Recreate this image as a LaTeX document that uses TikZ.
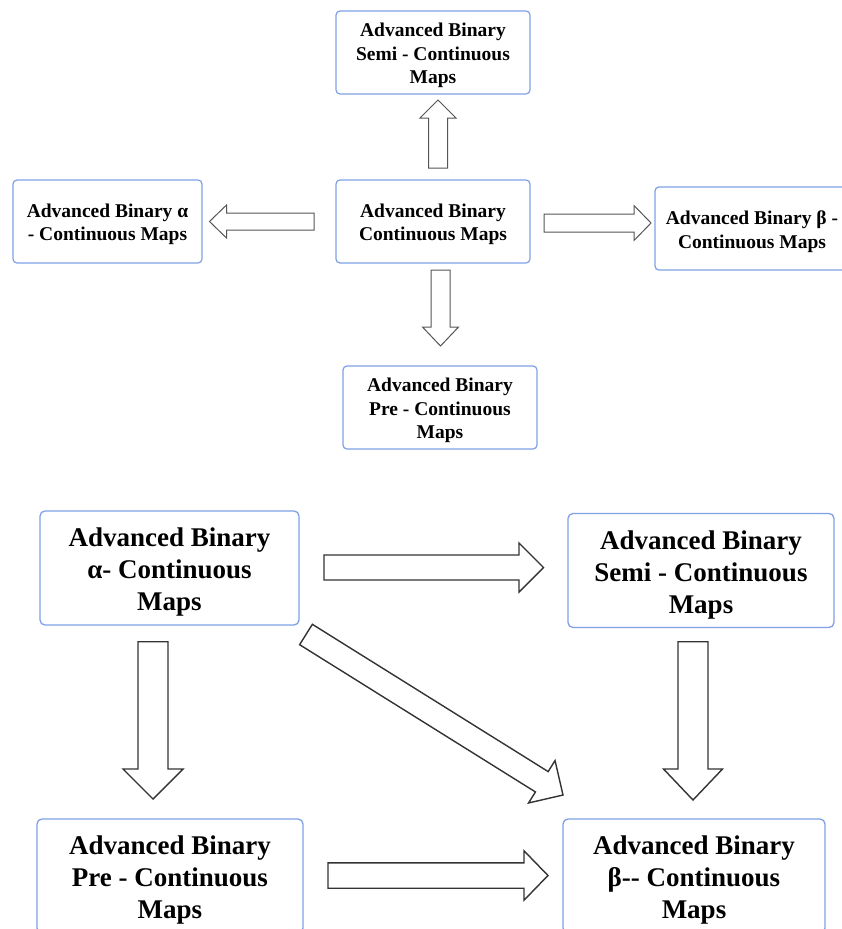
\documentclass[tikz,border=0pt]{standalone}
\usepackage{fontspec}
\setmainfont{Liberation Serif}
\usetikzlibrary{calc}
\definecolor{boxblue}{HTML}{7FA0E6}
\definecolor{arrgray}{HTML}{555555}
\definecolor{arrdark}{HTML}{333333}
\newcommand\blockarrow[6]{% #1 style, #2 tail, #3 tip, #4 half shaft, #5 half head, #6 head length
  \coordinate (ba-h) at ($(#3)!#6pt!(#2)$);
  \draw[#1] ($(#2)!#4pt!90:(#3)$) -- ($(ba-h)!#4pt!90:(#3)$) -- ($(ba-h)!#5pt!90:(#3)$) -- (#3)
    -- ($(ba-h)!#5pt!-90:(#3)$) -- ($(ba-h)!#4pt!-90:(#3)$) -- ($(#2)!#4pt!-90:(#3)$) -- cycle;}
\begin{document}
\begin{tikzpicture}[x=1pt,y=-1pt,
  smallbox/.style={draw=boxblue, line width=1.2pt, rounded corners=4pt, fill=white,
    inner sep=0pt, minimum width=194pt, minimum height=83pt},
  smalltext/.style={align=center, inner sep=0pt, yshift=-3pt,
    font=\fontsize{19.5}{23.5}\selectfont\bfseries},
  bigbox/.style={draw=boxblue, line width=1.3pt, rounded corners=5pt, fill=white,
    inner sep=0pt, minimum height=114pt},
  bigtext/.style={align=center, inner sep=0pt, yshift=-4pt,
    font=\fontsize{27}{32}\selectfont\bfseries},
  thinarrow/.style={draw=arrgray, line width=1pt, fill=white, line join=miter},
  thickarrow/.style={draw=arrdark, line width=1.4pt, fill=white, line join=miter}]
\useasboundingbox[fill=white] (0,0) rectangle (842,929);

% top diagram
\node[smallbox] (semi) at (433,52.5) {};
\node[smalltext] (semi-t) at (semi.center) {Advanced Binary\\Semi - Continuous\\Maps};
\node[smallbox] (cont) at (433,221.5) {};
\node[smalltext] (cont-t) at (cont.center) {Advanced Binary\\Continuous Maps};
\node[smallbox, minimum width=189pt] (alpha) at (107.5,221.5) {};
\node[smalltext] (alpha-t) at (alpha.center) {Advanced Binary α\\- Continuous Maps};
\node[smallbox] (beta) at (752,228.5) {};
\node[smalltext] (beta-t) at (beta.center) {Advanced Binary β -\\Continuous Maps};
\node[smallbox] (pre) at (440,407.5) {};
\node[smalltext] (pre-t) at (pre.center) {Advanced Binary\\Pre - Continuous\\Maps};

\coordinate (upT) at (438,168);     \coordinate (upH) at (438,100);
\coordinate (dnT) at (440.5,270);   \coordinate (dnH) at (440.5,346);
\coordinate (lfT) at (314,221.5);   \coordinate (lfH) at (209.5,221.5);
\coordinate (rtT) at (544,223);     \coordinate (rtH) at (651,223);
\blockarrow{thinarrow}{upT}{upH}{9.5}{18}{18}
\blockarrow{thinarrow}{dnT}{dnH}{9.5}{18}{19}
\blockarrow{thinarrow}{lfT}{lfH}{8.5}{16.5}{17}
\blockarrow{thinarrow}{rtT}{rtH}{9}{17.5}{17}

% bottom diagram
\node[bigbox, minimum width=259pt] (alpha2) at (169.5,568) {};
\node[bigtext] (alpha2-t) at (alpha2.center) {Advanced Binary\\α- Continuous\\Maps};
\node[bigbox, minimum width=266pt] (semi2) at (701,570.5) {};
\node[bigtext] (semi2-t) at (semi2.center) {Advanced Binary\\Semi - Continuous\\Maps};
\node[bigbox, minimum width=266pt] (pre2) at (170,876) {};
\node[bigtext] (pre2-t) at (pre2.center) {Advanced Binary\\Pre - Continuous\\Maps};
\node[bigbox, minimum width=262pt] (beta2) at (694,876) {};
\node[bigtext] (beta2-t) at (beta2.center) {Advanced Binary\\β-{}- Continuous\\Maps};

\coordinate (asT) at (324,567.5);  \coordinate (asH) at (543.5,567.5);
\coordinate (pbT) at (328,875.5);  \coordinate (pbH) at (548,875.5);
\coordinate (apT) at (153,641.7);  \coordinate (apH) at (153,799);
\coordinate (sbT) at (693,641.7);  \coordinate (sbH) at (693,800);
\coordinate (dgT) at (306,634.5);  \coordinate (dgH) at (563,795);
\blockarrow{thickarrow}{asT}{asH}{12.5}{24.5}{24.5}
\blockarrow{thickarrow}{pbT}{pbH}{12.7}{24.7}{24}
\blockarrow{thickarrow}{apT}{apH}{15}{30}{30}
\blockarrow{thickarrow}{sbT}{sbH}{15}{29.5}{31}
\blockarrow{thickarrow}{dgT}{dgH}{12}{25}{25}
\end{tikzpicture}
\end{document}
